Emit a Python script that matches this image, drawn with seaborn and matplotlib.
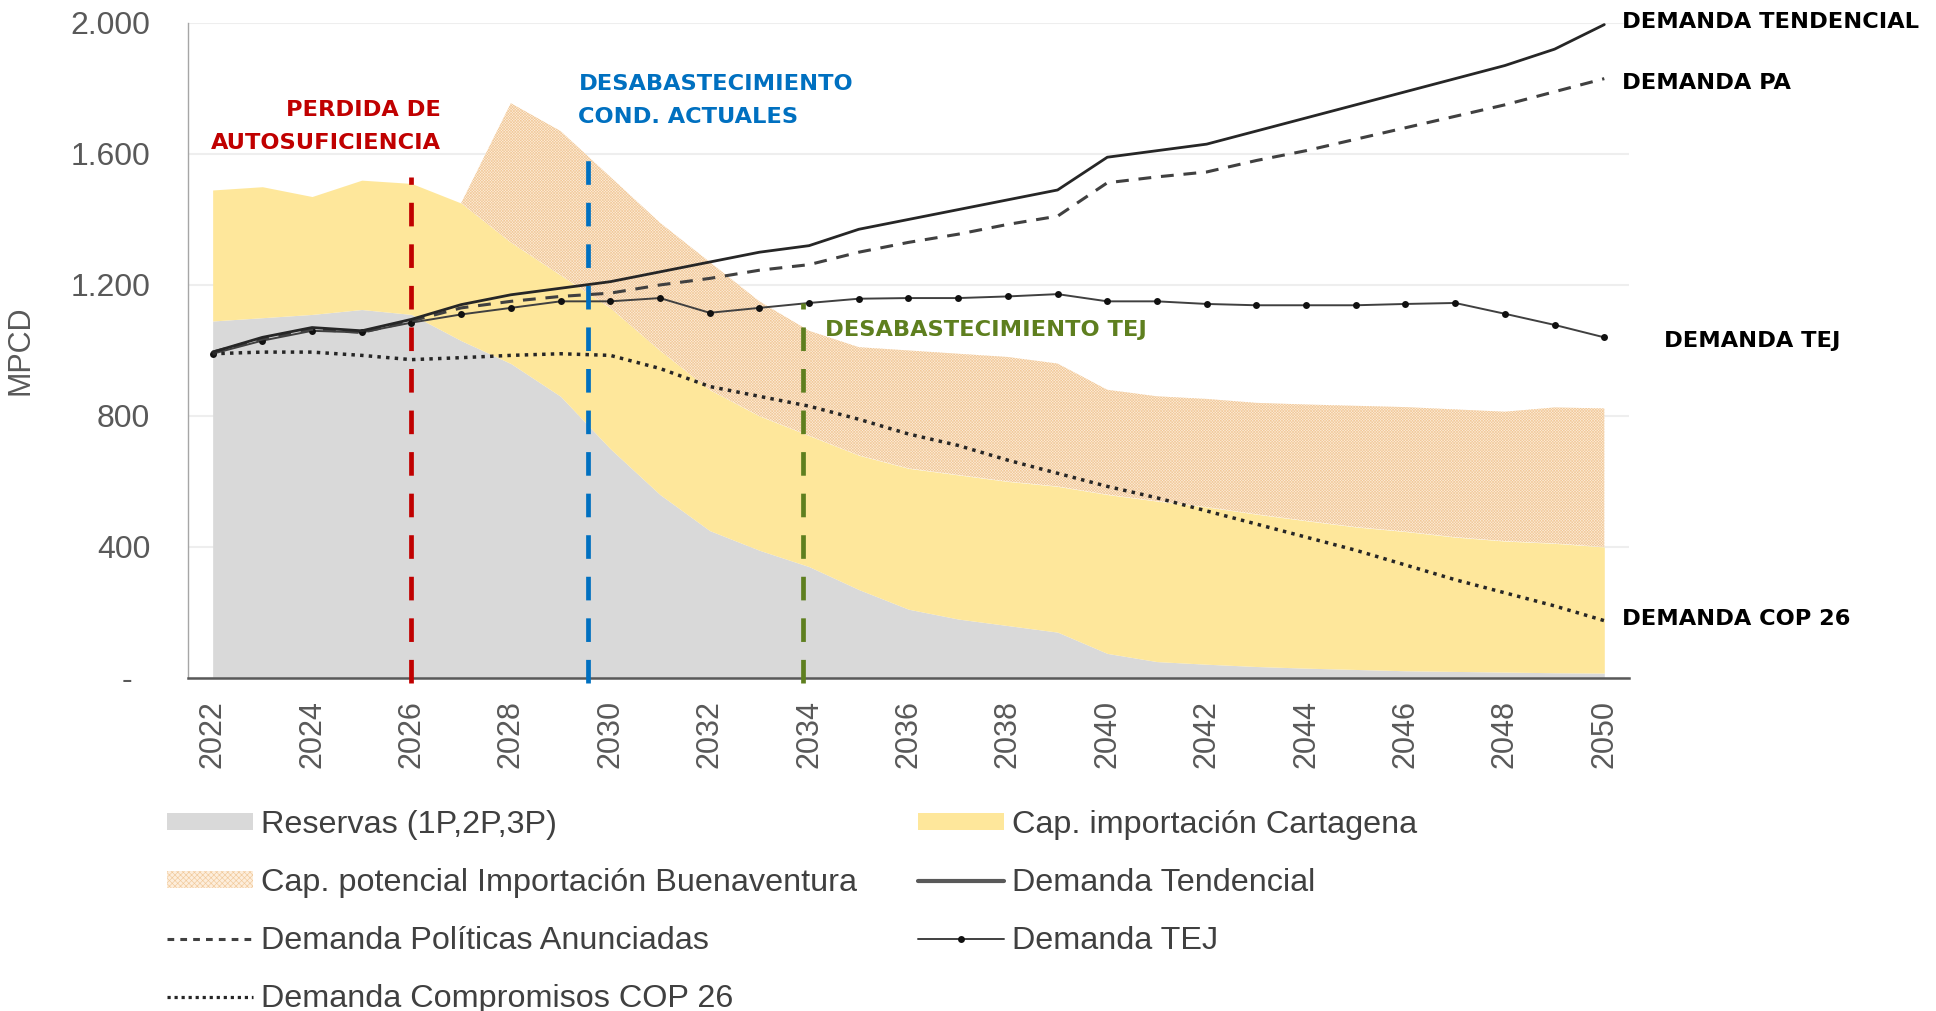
import matplotlib.pyplot as plt
import numpy as np
import seaborn as sns
from matplotlib.lines import Line2D
from matplotlib.patches import Patch
from matplotlib.transforms import ScaledTranslation

# --- data (MPCD) ---
YEARS = list(range(2022, 2051))

# stacked supply areas
RESERVAS = [1090, 1100, 1110, 1125, 1110, 1030, 960, 860, 700, 560, 450, 390, 340, 270, 210,
            180, 160, 140, 75, 50, 42, 35, 30, 26, 22, 20, 18, 16, 15]
CARTAGENA = [400, 400, 360, 395, 400, 420, 370, 370, 430, 440, 430, 410, 400, 410, 430,
             440, 440, 445, 485, 490, 480, 465, 450, 435, 425, 410, 400, 395, 385]
BUENAVENTURA = [0, 0, 0, 0, 0, 0, 425, 440, 400, 390, 390, 350, 320, 330, 360,
                370, 380, 375, 320, 320, 330, 340, 355, 370, 380, 390, 395, 415, 423]

# demand scenarios
DEM_TENDENCIAL = [995, 1040, 1070, 1060, 1095, 1140, 1170, 1190, 1210, 1240, 1270, 1300, 1320, 1370,
                  1400, 1430, 1460, 1490, 1590, 1610, 1630, 1670, 1710, 1750, 1790, 1830, 1870, 1920, 1995]
DEM_PA = [995, 1035, 1065, 1055, 1090, 1130, 1150, 1165, 1175, 1200, 1220, 1245, 1262, 1300,
          1330, 1355, 1385, 1410, 1512, 1530, 1545, 1580, 1610, 1645, 1680, 1715, 1750, 1790, 1830]
DEM_TEJ = [990, 1030, 1060, 1055, 1085, 1110, 1130, 1150, 1150, 1160, 1115, 1130, 1145, 1158,
           1160, 1160, 1165, 1172, 1150, 1150, 1142, 1138, 1138, 1138, 1142, 1145, 1112, 1078, 1040]
DEM_COP26 = [990, 995, 995, 985, 972, 978, 985, 990, 985, 945, 890, 860, 830, 790,
             745, 710, 665, 625, 585, 550, 510, 470, 430, 390, 345, 300, 260, 220, 175]

Y_TICKS = [0, 400, 800, 1200, 1600, 2000]
Y_TICK_LABELS = ["-", "400", "800", "1.200", "1.600", "2.000"]
X_TICK_YEARS = list(range(2022, 2051, 2))

# milestone year, height reached by the marker line, colour
MILESTONE_YEARS = [2026.0, 2029.55, 2033.87]
MILESTONE_TOPS = [1530, 1618, 1145]
MILESTONE_COLORS = ["#c00000", "#0070c0", "#5e7f1f"]

GREY = "#d9d9d9"
YELLOW = "#fee79b"
PEACH = "#fdeedc"
HATCH = "#f1c99a"
TICK_GREY = "#595959"


def main() -> None:
    sns.set_theme(style="white")
    plt.rcParams["font.family"] = ["Liberation Sans", "DejaVu Sans"]
    plt.rcParams["hatch.linewidth"] = 0.45

    fig = plt.figure(figsize=(19.36, 10.11), dpi=100)
    ax = fig.add_axes([0.097, 0.3294, 0.7445, 0.6479])

    areas = ax.stackplot(YEARS, RESERVAS, CARTAGENA, BUENAVENTURA,
                         colors=[GREY, YELLOW, PEACH], linewidth=0, zorder=1)
    areas[2].set_hatch("xxxxxxxxxxxx")
    areas[2].set_edgecolor(HATCH)
    areas[2].set_linewidth(0)

    sns.lineplot(x=YEARS, y=DEM_TEJ, ax=ax, color="#404040", linewidth=1.4,
                 marker="o", markersize=5, markeredgewidth=0, markerfacecolor="#111111", zorder=4)
    sns.lineplot(x=YEARS, y=DEM_COP26, ax=ax, color="#262626", linewidth=2.5,
                 linestyle=(0, (1.0, 1.5)), zorder=4)
    sns.lineplot(x=YEARS, y=DEM_PA, ax=ax, color="#404040", linewidth=2.2,
                 linestyle=(0, (4.2, 3.2)), zorder=4)
    sns.lineplot(x=YEARS, y=DEM_TENDENCIAL, ax=ax, color="#262626", linewidth=2.0, zorder=5)

    for yr, top, col in zip(MILESTONE_YEARS, MILESTONE_TOPS, MILESTONE_COLORS):
        ax.vlines(yr, -15, top, colors=col, linewidth=3.4, linestyles=(0, (5.0, 3.8)),
                  zorder=6, clip_on=False)

    # axes styling
    ax.set_xlim(2021.5, 2050.5)
    ax.set_ylim(0, 2000)
    ax.set_yticks(Y_TICKS)
    ax.set_yticklabels(Y_TICK_LABELS)
    ax.set_xticks(X_TICK_YEARS)
    ax.set_xticklabels([str(y) for y in X_TICK_YEARS], rotation=90)
    ax.set_xticks(np.arange(2021.5, 2050, 2), minor=True)
    ax.tick_params(axis="x", which="major", length=0, pad=16, labelsize=22, labelcolor=TICK_GREY)
    ax.tick_params(axis="x", which="minor", length=7, width=1.2, color="#8c8c8c", direction="out")
    ax.tick_params(axis="y", length=9, width=1.0, color="#a6a6a6", direction="out",
                   pad=18, labelsize=23, labelcolor=TICK_GREY)
    ax.yaxis.grid(True, color="#eeeeee", linewidth=1.5)
    ax.xaxis.grid(False)
    ax.set_axisbelow(True)
    for side in ("top", "right"):
        ax.spines[side].set_visible(False)
    ax.spines["left"].set_color("#a6a6a6")
    ax.spines["left"].set_linewidth(1.0)
    ax.spines["bottom"].set_color("#595959")
    ax.spines["bottom"].set_linewidth(1.8)

    zero_lbl = ax.get_yticklabels()[0]
    zero_lbl.set_transform(zero_lbl.get_transform() + ScaledTranslation(-0.18, 0, fig.dpi_scale_trans))

    ax.set_ylabel("MPCD", fontsize=22, color=TICK_GREY)
    ax.yaxis.set_label_coords(-0.106, 0.5)

    # annotations
    bold = dict(family="DejaVu Sans", fontweight="bold", fontsize=16.2)
    ax.text(2026.59, 1685, "PERDIDA DE\nAUTOSUFICIENCIA", color="#c00000", ha="right",
            va="center", multialignment="right", linespacing=1.8, **bold)
    ax.text(2029.36, 1762, "DESABASTECIMIENTO\nCOND. ACTUALES", color="#0070c0", ha="left",
            va="center", linespacing=1.8, **bold)
    ax.text(2034.33, 1062, "DESABASTECIMIENTO TEJ", color="#5e7f1f", ha="left", va="center", **bold)
    ax.text(2050.35, 2003, "DEMANDA TENDENCIAL", color="black", ha="left", va="center",
            clip_on=False, **bold)
    ax.text(2050.35, 1817, "DEMANDA PA", color="black", ha="left", va="center", clip_on=False, **bold)
    ax.text(2051.2, 1029, "DEMANDA TEJ", color="black", ha="left", va="center", clip_on=False, **bold)
    ax.text(2050.35, 180, "DEMANDA COP 26", color="black", ha="left", va="center", clip_on=False, **bold)

    # legend (column-first order)
    handles = [
        Patch(facecolor=GREY, linewidth=0),
        Patch(facecolor=PEACH, edgecolor=HATCH, hatch="xxxxxx", linewidth=0),
        Line2D([], [], color="#404040", linewidth=2.2, linestyle=(0, (2.2, 2.0))),
        Line2D([], [], color="#262626", linewidth=2.3, linestyle=(0, (1.0, 1.2))),
        Patch(facecolor=YELLOW, linewidth=0),
        Line2D([], [], color="#595959", linewidth=3.0),
        Line2D([], [], color="#404040", linewidth=1.4, marker="o", markersize=5,
               markeredgewidth=0, markerfacecolor="#111111"),
    ]
    labels = [
        "Reservas (1P,2P,3P)",
        "Cap. potencial Importación Buenaventura",
        "Demanda Políticas Anunciadas",
        "Demanda Compromisos COP 26",
        "Cap. importación Cartagena",
        "Demanda Tendencial",
        "Demanda TEJ",
    ]
    leg = fig.legend(handles, labels, loc="upper left", bbox_to_anchor=(0.0863, 0.199), ncol=2,
                     frameon=False, fontsize=23.3, handlelength=2.65, handleheight=0.45,
                     handletextpad=0.25, columnspacing=1.9, labelspacing=0.87,
                     borderpad=0, borderaxespad=0)
    for txt in leg.get_texts():
        txt.set_color("#404040")

    fig.savefig("out.png", dpi=100)
    plt.close(fig)


if __name__ == "__main__":
    main()
